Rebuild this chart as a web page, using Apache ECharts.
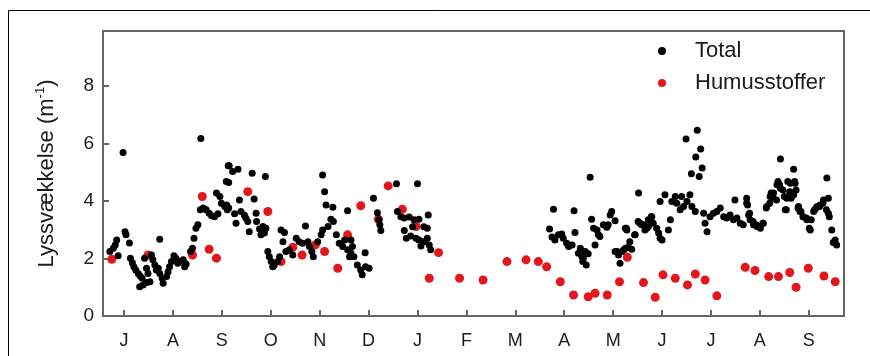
<!DOCTYPE html>
<html>
<head>
<meta charset="utf-8">
<script src="https://cdn.jsdelivr.net/npm/echarts@6/dist/echarts.min.js"></script>
<style>
  html, body { margin: 0; padding: 0; background: #fff; }
  #lysChart { width: 870px; height: 356px; }
</style>
</head>
<body>
<div id="lysChart"></div>
<script>
// x = months from 1 July (year 1), y = light attenuation (m-1)
const monthLabels = ["J", "A", "S", "O", "N", "D", "J", "F", "M", "A", "M", "J", "J", "A", "S"];
const monthTicks = monthLabels.map((m, i) => i + 0.5);
const yTicks = [0, 2, 4, 6, 8];

const totalPoints = [
  [0.48, 5.68], [2.07, 6.17], [0.52, 2.93], [0.54, 2.82], [0.61, 2.54], [0.35, 2.64], [0.32, 2.47],
  [0.28, 2.35], [0.38, 2.09], [0.21, 2.24], [0.63, 2.01], [0.67, 1.85], [0.70, 1.71], [0.74, 1.60],
  [0.79, 1.48], [0.83, 1.39], [0.87, 1.31], [0.82, 1.02], [0.89, 1.08], [0.96, 1.16], [1.03, 1.19],
  [0.92, 2.01], [0.96, 1.66], [0.99, 1.48], [1.06, 2.12], [1.09, 1.95], [1.13, 1.77], [1.16, 1.60],
  [1.20, 1.66], [1.23, 2.67], [1.23, 1.48], [1.28, 1.31], [1.30, 1.14], [1.37, 1.37], [1.40, 1.54],
  [1.43, 1.71], [1.47, 1.89], [1.52, 2.09], [1.56, 2.01], [1.60, 1.83], [1.64, 1.89], [1.71, 1.95],
  [1.74, 1.71], [1.77, 1.81], [1.86, 2.24], [1.90, 2.35], [1.93, 2.70], [1.97, 3.05], [2.01, 3.17],
  [2.06, 3.69], [2.12, 3.75], [2.18, 3.69], [2.24, 3.57], [2.29, 3.48], [2.35, 3.45], [2.42, 3.55],
  [2.39, 4.27], [2.46, 4.15], [2.49, 3.92], [2.56, 3.80], [2.61, 3.69], [2.59, 4.67], [2.63, 5.22],
  [2.65, 5.22], [2.72, 5.02], [2.83, 5.10], [2.64, 4.64], [3.12, 4.96], [3.39, 4.85], [2.86, 4.03],
  [3.16, 4.06], [2.60, 3.86], [2.64, 3.75], [2.76, 3.55], [2.89, 3.63], [2.96, 3.51], [2.99, 3.40],
  [2.79, 3.22], [3.03, 3.28], [3.20, 3.57], [3.21, 3.28], [3.06, 2.93], [3.27, 3.02], [3.34, 3.11],
  [3.40, 3.05], [3.30, 2.82], [3.37, 2.88], [4.56, 4.90], [4.60, 4.32], [4.63, 3.86], [4.77, 3.78],
  [4.73, 3.36], [4.78, 3.28], [4.67, 3.11], [4.21, 3.13], [3.71, 2.99], [3.78, 2.90], [3.75, 2.58],
  [3.44, 2.24], [3.47, 2.06], [3.51, 1.89], [3.57, 1.77], [3.54, 1.71], [3.64, 1.89], [3.68, 2.06],
  [3.81, 2.24], [3.88, 2.30], [3.95, 2.12], [4.02, 2.70], [4.08, 2.58], [4.15, 2.53], [4.26, 2.58],
  [4.29, 2.41], [4.34, 2.24], [4.37, 2.06], [4.46, 2.58], [4.53, 2.82], [4.56, 2.99], [4.84, 2.82],
  [4.90, 2.53], [4.97, 2.41], [5.01, 2.64], [5.07, 2.30], [5.11, 2.06], [5.07, 3.66], [5.43, 2.20],
  [5.60, 4.09], [5.68, 3.59], [5.71, 3.34], [5.73, 3.17], [5.75, 2.97], [5.14, 2.64], [5.17, 2.41],
  [5.14, 2.18], [5.20, 2.06], [5.27, 1.77], [5.34, 1.60], [5.37, 1.43], [5.44, 1.71], [5.51, 1.66],
  [6.07, 4.59], [6.50, 4.59], [6.09, 3.63], [6.16, 3.45], [6.23, 3.40], [6.33, 3.44], [6.43, 3.34],
  [6.53, 3.36], [6.72, 3.51], [6.23, 2.97], [6.40, 3.10], [6.63, 3.10], [6.70, 3.05], [6.27, 2.70],
  [6.36, 2.78], [6.47, 2.70], [6.53, 2.64], [6.57, 2.43], [6.63, 2.58], [6.70, 2.70], [6.74, 2.47],
  [6.77, 2.30],
  [9.28, 3.71], [9.70, 3.66], [10.03, 4.82], [10.06, 3.36], [10.47, 3.63], [10.44, 3.51], [10.54, 3.31],
  [10.40, 3.17], [10.37, 3.08], [10.75, 3.05], [9.20, 3.02], [9.25, 2.74], [9.31, 2.64], [9.38, 2.82],
  [9.45, 2.85], [9.48, 2.70], [9.55, 2.53], [9.59, 2.41], [9.66, 2.47], [9.72, 2.90], [9.83, 2.35],
  [9.79, 2.18], [9.86, 2.06], [9.88, 1.89], [9.95, 1.77], [9.99, 2.16], [10.13, 2.47], [10.10, 3.05],
  [10.17, 2.99], [10.20, 2.82], [10.23, 2.76], [10.30, 3.17], [10.58, 2.24], [10.61, 2.12], [10.64, 1.83],
  [10.72, 2.30], [9.93, 2.24], [9.89, 2.01], [10.54, 2.24], [10.68, 2.24], [10.75, 2.35], [10.81, 2.39],
  [10.88, 2.32], [10.78, 2.99], [10.95, 2.82], [11.02, 4.27], [11.05, 3.22], [11.12, 3.17], [11.19, 3.05],
  [11.22, 3.34], [11.29, 3.45], [11.32, 3.22], [11.39, 3.05], [11.43, 2.88], [11.46, 2.70], [11.50, 2.64],
  [11.46, 3.98], [11.56, 4.21], [11.63, 2.99], [11.67, 3.34], [11.70, 3.98], [11.77, 4.15], [11.80, 3.92],
  [11.87, 3.69], [11.90, 4.15], [11.94, 3.80], [12.01, 3.98], [12.07, 4.21], [12.11, 3.80], [12.18, 3.63],
  [12.35, 3.57], [12.38, 3.22], [12.42, 2.93], [12.48, 3.45], [12.55, 3.57], [12.62, 3.63], [12.69, 3.75],
  [12.76, 3.45], [12.82, 3.40], [12.89, 3.51], [12.96, 3.34], [12.99, 4.03], [13.03, 3.40], [13.10, 3.22],
  [13.16, 3.17], [13.23, 3.92], [13.23, 4.09], [13.27, 3.51], [13.30, 3.34], [13.37, 3.17], [13.44, 3.11],
  [13.51, 3.05], [13.57, 3.22], [13.64, 3.80], [13.71, 4.15], [13.78, 4.27], [13.85, 4.56], [13.92, 4.44],
  [14.02, 3.69], [14.05, 4.09], [14.12, 4.61], [14.19, 4.21], [14.22, 4.61], [14.29, 3.80], [14.32, 3.63],
  [14.39, 3.45], [14.46, 3.34], [14.53, 2.99], [14.60, 3.63], [14.67, 3.80], [14.73, 3.86], [14.80, 4.03],
  [14.87, 4.79], [14.90, 4.09], [14.90, 3.57], [14.97, 2.99], [15.04, 2.64], [15.07, 2.47], [15.00, 2.55],
  [11.99, 6.15], [12.22, 6.45], [12.29, 5.80], [12.19, 5.52], [12.32, 5.14], [12.10, 4.94], [12.26, 4.85],
  [13.92, 5.45], [14.19, 5.10], [13.25, 3.86], [13.29, 3.57], [13.36, 3.28], [13.42, 3.17], [13.49, 3.11],
  [13.56, 3.22], [13.63, 3.75], [13.70, 3.92], [13.73, 4.27], [13.77, 4.09], [13.84, 4.03], [13.87, 4.67],
  [13.90, 4.56], [13.97, 4.38], [14.00, 4.15], [14.04, 3.69], [14.07, 4.67], [14.11, 4.32], [14.14, 4.09],
  [14.17, 4.27], [14.21, 4.67], [14.24, 4.38], [14.28, 3.75], [14.34, 3.63], [14.38, 3.45], [14.45, 3.40],
  [14.51, 3.05], [14.55, 3.34], [14.62, 3.69], [14.65, 3.75], [14.72, 3.80], [14.79, 3.92], [14.86, 3.69],
  [14.92, 3.45], [10.77, 3.05], [10.84, 2.58], [10.94, 2.82], [11.01, 3.28], [11.08, 3.17], [11.15, 2.99],
  [11.22, 3.11], [11.28, 3.45]
];

const humusPoints = [
  [0.25, 1.97], [0.99, 2.12], [1.90, 2.12], [2.10, 4.15], [2.24, 2.32], [2.39, 2.01], [3.03, 4.32],
  [3.44, 3.63], [3.71, 1.89], [3.95, 2.39], [4.14, 2.12], [4.41, 2.47], [4.60, 2.24], [4.87, 1.66],
  [5.07, 2.82], [5.34, 3.83], [5.70, 3.36], [5.90, 4.52], [6.19, 3.71], [6.47, 3.11], [6.74, 1.31],
  [6.93, 2.20], [7.36, 1.31], [7.84, 1.25], [8.33, 1.89], [8.72, 1.95], [8.97, 1.89], [9.14, 1.71],
  [9.42, 1.19], [9.69, 0.73], [9.99, 0.67], [10.13, 0.79], [10.38, 0.73], [10.63, 1.19], [10.79, 2.04],
  [11.12, 1.16], [11.36, 0.65], [11.52, 1.43], [11.77, 1.31], [12.02, 1.08], [12.18, 1.46], [12.38, 1.25],
  [12.62, 0.70], [13.20, 1.69], [13.40, 1.58], [13.68, 1.37], [13.88, 1.37], [14.11, 1.51], [14.24, 1.00],
  [14.49, 1.66], [14.81, 1.39], [15.04, 1.19]
];

const lysChart = echarts.init(document.getElementById("lysChart"));
const axisColor = "#666";
const textColor = "#1a1a1a";
const fontName = "Liberation Sans, Arial, sans-serif";

const option = {
  backgroundColor: "#fff",
  animation: false,
  textStyle: { fontFamily: fontName },
  graphic: [
    {
      type: "rect",
      silent: true,
      shape: { x: 8.5, y: 10.5, width: 1000, height: 1000 },
      style: { fill: "none", stroke: "#000", lineWidth: 1 }
    }
  ],
  grid: {
    left: 103,
    right: 26,
    top: 31,
    bottom: 40,
    show: true,
    borderColor: axisColor,
    borderWidth: 2,
    backgroundColor: "transparent"
  },
  legend: {
    orient: "vertical",
    left: 653,
    top: 35,
    itemWidth: 56,
    itemHeight: 8,
    itemGap: 10,
    icon: "circle",
    textStyle: { fontSize: 22, color: textColor, lineHeight: 22, fontFamily: fontName },
    data: ["Total", "Humusstoffer"]
  },
  xAxis: {
    type: "value",
    min: 0.07,
    max: 15.22,
    splitLine: { show: false },
    axisLine: { show: true, lineStyle: { color: axisColor, width: 2 } },
    axisTick: {
      show: true,
      inside: true,
      length: 6,
      customValues: monthTicks,
      lineStyle: { color: axisColor, width: 2 }
    },
    axisLabel: {
      customValues: monthTicks,
      margin: 16,
      fontSize: 18,
      color: textColor,
      formatter: function (v) {
        return monthLabels[Math.round(v - 0.5)];
      }
    }
  },
  yAxis: {
    type: "value",
    min: 0,
    max: 9.9,
    splitLine: { show: false },
    name: "{a|Lyssvækkelse (m}{b|-1}{a|)}",
    nameLocation: "middle",
    nameRotate: 90,
    nameGap: 43,
    nameTextStyle: {
      rich: {
        a: { fontSize: 22, color: textColor, fontFamily: fontName, lineHeight: 26 },
        b: { fontSize: 13, color: textColor, fontFamily: fontName, verticalAlign: "top", lineHeight: 26 }
      }
    },
    axisLine: { show: true, lineStyle: { color: axisColor, width: 2 } },
    axisTick: {
      show: true,
      inside: true,
      length: 6,
      customValues: yTicks,
      lineStyle: { color: axisColor, width: 2 }
    },
    axisLabel: {
      customValues: yTicks,
      margin: 9,
      fontSize: 19,
      color: textColor
    }
  },
  series: [
    {
      name: "Total",
      type: "scatter",
      z: 3,
      symbolSize: 7,
      itemStyle: { color: "#000", opacity: 1 },
      data: totalPoints
    },
    {
      name: "Humusstoffer",
      type: "scatter",
      z: 2,
      symbolSize: 9,
      itemStyle: { color: "#e3161b", opacity: 1 },
      data: humusPoints
    }
  ]
};

lysChart.setOption(option);

window.addEventListener("resize", function () {
  lysChart.resize();
});
</script>
</body>
</html>
